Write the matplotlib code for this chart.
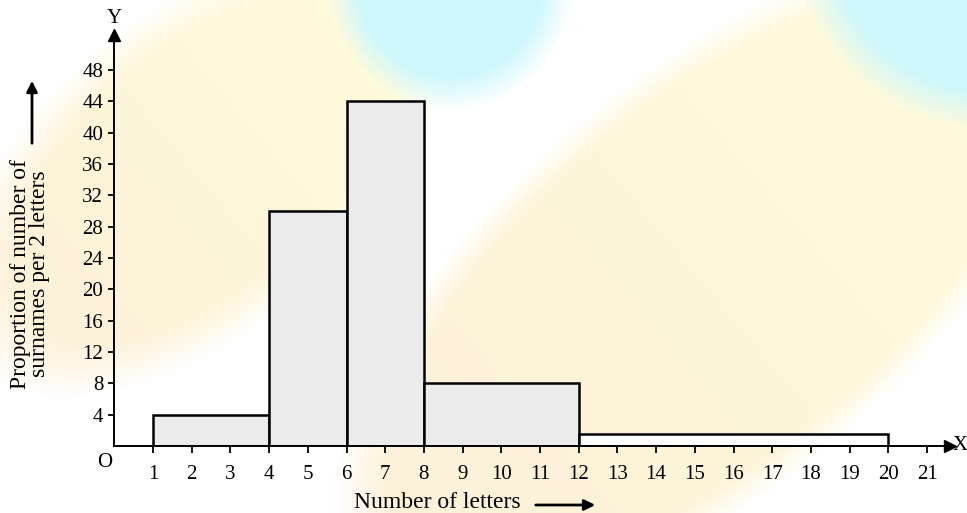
import numpy as np
import matplotlib
matplotlib.use("Agg")
import matplotlib.pyplot as plt
from matplotlib.patches import FancyArrowPatch

plt.rcParams["font.family"] = ["Liberation Serif", "DejaVu Serif"]

# class edges (number of letters) and bar heights (proportion per 2 letters)
EDGES   = [1, 4, 6, 8, 12, 20]
HEIGHTS = [4, 30, 44, 8, 1.5]
FILLS   = ["#EBEBEB", "#EBEBEB", "#EBEBEB", "#EBEBEB", "#FFFFFF"]
X_TICKS = list(range(1, 22))
Y_TICKS = list(range(4, 49, 4))

W, H = 967, 513
YELLOW = (1.0, 0.99, 0.86)
PEACH  = (0.99, 0.94, 0.85)
CYAN   = (0.81, 0.97, 0.99)


def background():
    """soft watermark blobs behind the chart"""
    img = np.ones((H, W, 3))
    yy, xx = np.mgrid[0:H, 0:W]
    blobs = [
        # cx, cy, rx, ry, angle, colour at +u end, colour at -u end, softness
        (200, 170, 300, 160, -40, YELLOW, PEACH, 0.25),
        (709, 279, 460, 205, -40, YELLOW, PEACH, 0.15),
        (450, -25, 125, 135, 0, CYAN, CYAN, 0.25),
        (990, -70, 200, 200, 0, CYAN, CYAN, 0.2),
    ]
    for cx, cy, rx, ry, ang, c1, c2, soft in blobs:
        a = np.deg2rad(ang)
        dx, dy = xx - cx, yy - cy
        u = dx * np.cos(a) + dy * np.sin(a)
        v = -dx * np.sin(a) + dy * np.cos(a)
        d = np.sqrt((u / rx) ** 2 + (v / ry) ** 2)
        m = np.clip((1 - d) / soft, 0, 1)[..., None]
        t = np.clip((u / rx + 1) / 2, 0, 1)[..., None]
        col = np.array(c2) * (1 - t) + np.array(c1) * t
        img = img * (1 - m) + col * m
    return img


def main():
    fig = plt.figure(figsize=(W / 100, H / 100), dpi=100)
    bg = fig.add_axes([0, 0, 1, 1], zorder=-1)
    bg.imshow(background(), aspect="auto")
    bg.axis("off")

    # axes placed so that 1 unit ~ 38.7 px in x and ~7.83 px in y
    x0, y0 = 114.3, 513 - 446
    xmax, ymax = 21.6, 52.5
    ax = fig.add_axes([x0 / W, y0 / H, xmax * 38.7 / W, ymax * 7.83 / H])
    ax.set_facecolor("none")

    for left, right, h, fc in zip(EDGES[:-1], EDGES[1:], HEIGHTS, FILLS):
        ax.bar(left, h, width=right - left, align="edge",
               facecolor=fc, edgecolor="black", linewidth=1.8, zorder=2)

    ax.set_xlim(0, xmax)
    ax.set_ylim(0, ymax)
    ax.set_xticks(X_TICKS)
    ax.set_yticks(Y_TICKS)
    ax.tick_params(axis="x", labelsize=15, length=5, width=1.3,
                   direction="out", pad=9)
    ax.tick_params(axis="y", labelsize=15, length=4, width=1.3,
                   direction="out", pad=4)
    ax.spines[["top", "right"]].set_visible(False)
    for s in ("left", "bottom"):
        ax.spines[s].set_linewidth(1.4)
    ax.plot(1, 0, ">k", transform=ax.transAxes, clip_on=False, markersize=8)
    ax.plot(0, 1, "^k", transform=ax.transAxes, clip_on=False, markersize=8)

    ax.text(1.003, 0, "X", transform=ax.transAxes, fontsize=15,
            va="center", ha="left")
    ax.text(0, 1.04, "Y", transform=ax.transAxes, fontsize=15,
            va="center", ha="center")
    ax.text(-0.011, -0.04, "O", transform=ax.transAxes, fontsize=15,
            va="center", ha="center")

    fig.text(30 / W, 1 - 274 / H, "Proportion of number of\nsurnames per 2 letters",
             rotation=90, fontsize=17, ha="center", va="center",
             linespacing=0.85)
    fig.text(437 / W, 1 - 502 / H, "Number of letters", fontsize=17,
             ha="center", va="center")
    fig.patches.append(FancyArrowPatch(
        (533 / W, 1 - 505 / H), (598 / W, 1 - 505 / H),
        transform=fig.transFigure, arrowstyle="-|>", mutation_scale=16,
        linewidth=2, color="black"))
    fig.patches.append(FancyArrowPatch(
        (32 / W, 1 - 146 / H), (32 / W, 1 - 78 / H),
        transform=fig.transFigure, arrowstyle="-|>", mutation_scale=16,
        linewidth=2, color="black"))

    fig.savefig("out.png", dpi=100)
    plt.close(fig)


if __name__ == "__main__":
    main()
